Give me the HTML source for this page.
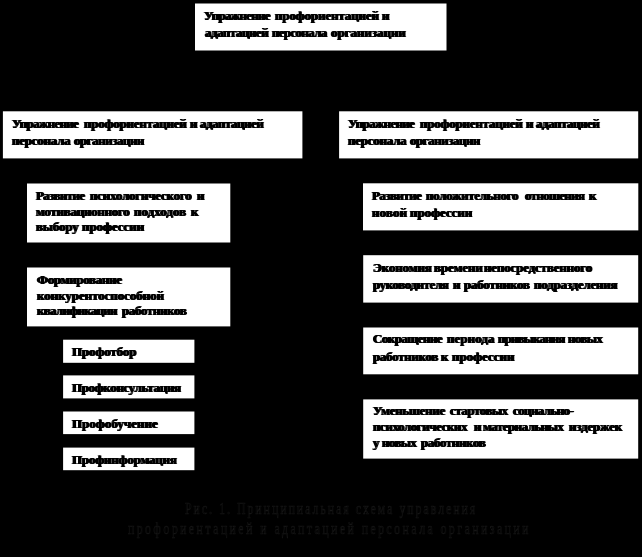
<!DOCTYPE html>
<html><head><meta charset="utf-8"><style>
html,body{margin:0;padding:0;background:#000;width:642px;height:557px;overflow:hidden}
svg{position:absolute;left:0;top:0}
.t{position:absolute;white-space:nowrap;line-height:0;color:#000;will-change:transform;font-family:"Liberation Serif",serif;font-weight:bold;font-size:13px;text-shadow:0.7px 0 0 #000,-0.7px 0 0 #000;}
.c{position:absolute;white-space:nowrap;line-height:0;color:#050505;will-change:transform;font-family:"Liberation Serif",serif;font-weight:normal;font-size:16px;-webkit-text-stroke:0.6px #161616;transform:scaleX(0.72);transform-origin:0 0;}
</style></head><body>
<svg width="642" height="557" viewBox="0 0 642 557">
<rect x="195" y="3.5" width="251.5" height="47" fill="#fff"/>
<rect x="2.9" y="111.3" width="299.5" height="47.1" fill="#fff"/>
<rect x="339.1" y="111.3" width="299.1" height="47.1" fill="#fff"/>
<rect x="27" y="183.5" width="203.3" height="59" fill="#fff"/>
<rect x="27" y="267.5" width="203.3" height="58.9" fill="#fff"/>
<rect x="63.1" y="339.7" width="131.3" height="23.1" fill="#fff"/>
<rect x="63.1" y="375.4" width="131.3" height="23" fill="#fff"/>
<rect x="63.1" y="411.5" width="131.3" height="22.6" fill="#fff"/>
<rect x="63.1" y="447.6" width="131.3" height="22.6" fill="#fff"/>
<rect x="363" y="183.3" width="275.3" height="47.1" fill="#fff"/>
<rect x="363.2" y="255.2" width="275" height="47.4" fill="#fff"/>
<rect x="363.2" y="327.5" width="275" height="46.8" fill="#fff"/>
<rect x="363.2" y="399.4" width="275" height="59.2" fill="#fff"/>
</svg>
<div class="t" style="left:204.2px;top:16.0px;letter-spacing:-0.74px">Упражнение</div>
<div class="t" style="left:275.2px;top:16.0px;letter-spacing:-0.14px">профориентацией</div>
<div class="t" style="left:381.5px;top:16.0px;letter-spacing:-0.44px">и</div>
<div class="t" style="left:205.0px;top:32.5px;letter-spacing:-0.50px">адаптацией</div>
<div class="t" style="left:272.2px;top:32.5px;letter-spacing:-0.68px">персонала</div>
<div class="t" style="left:331.3px;top:32.5px;letter-spacing:-0.05px">организации</div>
<div class="t" style="left:12.2px;top:124.0px;letter-spacing:-0.70px">Упражнение</div>
<div class="t" style="left:84.3px;top:124.0px;letter-spacing:-0.23px">профориентацией</div>
<div class="t" style="left:189.5px;top:124.0px;letter-spacing:-0.47px">и</div>
<div class="t" style="left:199.9px;top:124.0px;letter-spacing:-0.48px">адаптацией</div>
<div class="t" style="left:12.3px;top:141.0px;letter-spacing:-0.25px">персонала</div>
<div class="t" style="left:74.3px;top:141.0px;letter-spacing:-0.49px">организации</div>
<div class="t" style="left:348.2px;top:124.0px;letter-spacing:-0.70px">Упражнение</div>
<div class="t" style="left:420.3px;top:124.0px;letter-spacing:-0.23px">профориентацией</div>
<div class="t" style="left:525.5px;top:124.0px;letter-spacing:-0.47px">и</div>
<div class="t" style="left:535.9px;top:124.0px;letter-spacing:-0.48px">адаптацией</div>
<div class="t" style="left:348.3px;top:141.0px;letter-spacing:-0.25px">персонала</div>
<div class="t" style="left:410.3px;top:141.0px;letter-spacing:-0.49px">организации</div>
<div class="t" style="left:36.1px;top:196.0px;letter-spacing:-0.69px">Развитие</div>
<div class="t" style="left:90.0px;top:196.0px;letter-spacing:-0.23px">психологического</div>
<div class="t" style="left:196.7px;top:196.0px;letter-spacing:-0.46px">и</div>
<div class="t" style="left:36.0px;top:212.0px;letter-spacing:-0.28px">мотивационного</div>
<div class="t" style="left:133.9px;top:212.0px;letter-spacing:0.01px">подходов</div>
<div class="t" style="left:191.1px;top:212.0px;letter-spacing:-0.13px">к</div>
<div class="t" style="left:36.3px;top:227.0px;letter-spacing:-0.16px">выбору</div>
<div class="t" style="left:82.3px;top:227.0px;letter-spacing:-0.06px">профессии</div>
<div class="t" style="left:37.4px;top:280.0px;letter-spacing:-0.34px">Формирование</div>
<div class="t" style="left:37.0px;top:296.0px;letter-spacing:-0.07px">конкурентоспособной</div>
<div class="t" style="left:37.0px;top:310.5px;letter-spacing:-0.74px">квалификации</div>
<div class="t" style="left:121.5px;top:310.5px;letter-spacing:-0.38px">работников</div>
<div class="t" style="left:72.4px;top:351.5px;letter-spacing:-0.15px">Профотбор</div>
<div class="t" style="left:72.1px;top:387.5px;letter-spacing:-0.37px">Профконсультация</div>
<div class="t" style="left:72.1px;top:423.5px;letter-spacing:0.01px">Профобучение</div>
<div class="t" style="left:72.1px;top:459.5px;letter-spacing:-0.21px">Профинформация</div>
<div class="t" style="left:372.1px;top:196.0px;letter-spacing:-0.57px">Развитие</div>
<div class="t" style="left:425.9px;top:196.0px;letter-spacing:-0.32px">положительного</div>
<div class="t" style="left:524.9px;top:196.0px;letter-spacing:-0.69px">отношения</div>
<div class="t" style="left:588.8px;top:196.0px;letter-spacing:-0.53px">к</div>
<div class="t" style="left:372.1px;top:212.8px;letter-spacing:0.12px">новой</div>
<div class="t" style="left:409.7px;top:212.8px;letter-spacing:-0.04px">профессии</div>
<div class="t" style="left:372.7px;top:267.6px;letter-spacing:-0.13px">Экономия</div>
<div class="t" style="left:433.7px;top:267.6px;letter-spacing:-0.13px">времени</div>
<div class="t" style="left:484.2px;top:267.6px;letter-spacing:-0.17px">непосредственного</div>
<div class="t" style="left:372.7px;top:284.5px;letter-spacing:-0.44px">руководителя</div>
<div class="t" style="left:452.8px;top:284.5px;letter-spacing:-0.31px">и</div>
<div class="t" style="left:463.7px;top:284.5px;letter-spacing:-0.26px">работников</div>
<div class="t" style="left:533.5px;top:284.5px;letter-spacing:-0.23px">подразделения</div>
<div class="t" style="left:372.7px;top:339.3px;letter-spacing:-0.56px">Сокращение</div>
<div class="t" style="left:446.6px;top:339.3px;letter-spacing:0.05px">периода</div>
<div class="t" style="left:498.0px;top:339.3px;letter-spacing:-0.88px">привыкания</div>
<div class="t" style="left:568.2px;top:339.3px;letter-spacing:-0.62px">новых</div>
<div class="t" style="left:372.7px;top:356.5px;letter-spacing:-0.32px">работников</div>
<div class="t" style="left:441.2px;top:356.5px;letter-spacing:-0.17px">к</div>
<div class="t" style="left:452.1px;top:356.5px;letter-spacing:-0.03px">профессии</div>
<div class="t" style="left:372.7px;top:411.3px;letter-spacing:-0.30px">Уменьшение</div>
<div class="t" style="left:449.7px;top:411.3px;letter-spacing:-0.47px">стартовых</div>
<div class="t" style="left:512.8px;top:411.3px;letter-spacing:-0.62px">социально-</div>
<div class="t" style="left:372.7px;top:427.4px;letter-spacing:-0.44px">психологических</div>
<div class="t" style="left:473.9px;top:427.4px;letter-spacing:-0.38px">и</div>
<div class="t" style="left:483.2px;top:427.4px;letter-spacing:-0.53px">материальных</div>
<div class="t" style="left:569.3px;top:427.4px;letter-spacing:-0.19px">издержек</div>
<div class="t" style="left:372.6px;top:443.2px;letter-spacing:-0.51px">у</div>
<div class="t" style="left:382.0px;top:443.2px;letter-spacing:-0.62px">новых</div>
<div class="t" style="left:421.3px;top:443.2px;letter-spacing:-0.39px">работников</div>
<div class="c" style="left:185.0px;top:509.0px;letter-spacing:2.97px">Рис. 1. Принципиальная схема управления</div>
<div class="c" style="left:128.0px;top:528.5px;letter-spacing:3.59px">профориентацией и адаптацией персонала организации</div>
</body></html>
